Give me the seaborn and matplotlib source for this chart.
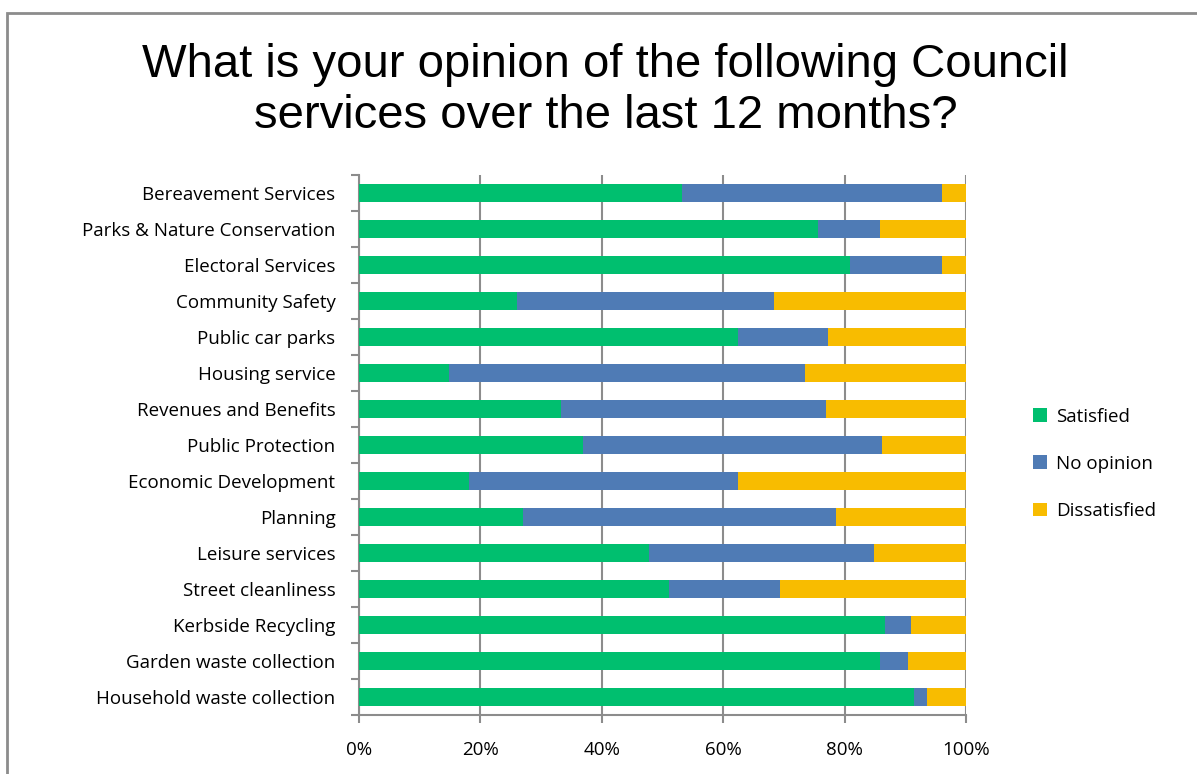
import matplotlib
matplotlib.use("Agg")
import matplotlib.pyplot as plt
import seaborn as sns
import pandas as pd
import numpy as np
from matplotlib.patches import Rectangle
from matplotlib.ticker import FixedLocator, PercentFormatter

services = ["Bereavement Services", "Parks & Nature Conservation", "Electoral Services",
            "Community Safety", "Public car parks", "Housing service",
            "Revenues and Benefits", "Public Protection", "Economic Development",
            "Planning", "Leisure services", "Street cleanliness",
            "Kerbside Recycling", "Garden waste collection", "Household waste collection"]
satisfied = [53.2, 75.7, 80.9, 26.0, 62.5, 14.9, 33.2, 36.9, 18.1, 27.1, 47.8, 51.0, 86.6, 85.9, 91.5]
no_opinion = [42.8, 10.1, 15.1, 42.4, 14.8, 58.5, 43.8, 49.2, 44.4, 51.5, 37.0, 18.4, 4.4, 4.5, 2.0]
dissatisfied = [100 - s - n for s, n in zip(satisfied, no_opinion)]
series = ["Satisfied", "No opinion", "Dissatisfied"]
colors = ["#00BF6F", "#4F7BB5", "#F8BC00"]
x_ticks = [0, 20, 40, 60, 80, 100]

df = pd.DataFrame({"service": services, "Satisfied": satisfied,
                   "No opinion": no_opinion, "Dissatisfied": dissatisfied})
df["c1"] = df["Satisfied"]
df["c2"] = df["Satisfied"] + df["No opinion"]
df["c3"] = df["c2"] + df["Dissatisfied"]

sns.set_theme(style="white")
plt.rcParams["font.family"] = ["Open Sans", "DejaVu Sans"]
plt.rcParams["text.color"] = "black"

fig = plt.figure(figsize=(11.97, 7.74), dpi=100)
ax = fig.add_axes([359/1197, 1-715/774, (966-359)/1197, (715-175)/774])

for col, lab, c in [("c3", "Dissatisfied", colors[2]), ("c2", "No opinion", colors[1]), ("c1", "Satisfied", colors[0])]:
    sns.barplot(data=df, x=col, y="service", orient="h", color=c, width=0.52,
                ax=ax, label=lab, saturation=1, edgecolor="none", linewidth=0, zorder=3)

ax.set_xlim(0, 100)
ax.set_ylim(len(services) - 0.5, -0.5)
ax.set_xlabel("")
ax.set_ylabel("")
ax.xaxis.set_major_locator(FixedLocator(x_ticks))
ax.xaxis.set_major_formatter(PercentFormatter(decimals=0))
ax.grid(axis="x", color="#8C8C8C", linewidth=1.5, zorder=0)
ax.set_axisbelow(True)
for s in ["top", "right"]:
    ax.spines[s].set_visible(False)
for s in ["left", "bottom"]:
    ax.spines[s].set_color("#8C8C8C")
    ax.spines[s].set_linewidth(1.5)
ax.tick_params(axis="y", length=0, pad=17, labelsize=13.5, labelcolor="black")
ax.yaxis.set_minor_locator(FixedLocator(np.arange(-0.5, len(services), 1)))
ax.tick_params(axis="y", which="minor", length=6, width=1.5, color="#8C8C8C", left=True)
ax.tick_params(axis="x", length=6, width=1.5, color="#8C8C8C", bottom=True,
               labelsize=13.5, pad=13, direction="out", labelcolor="black")

handles, labels = ax.get_legend_handles_labels()
order = [labels.index(s) for s in series]
leg = ax.legend([handles[i] for i in order], [labels[i] for i in order],
                loc="center left", bbox_to_anchor=(1.083, 0.465), frameon=False,
                fontsize=13.5, labelspacing=1.55, handlelength=0.75, handleheight=0.75,
                handletextpad=0.45)
for t in leg.get_texts():
    t.set_color("black")

fig.text(0.506, 0.883, "What is your opinion of the following Council\nservices over the last 12 months?",
         ha="center", va="center", fontsize=34, family=["Liberation Sans", "DejaVu Sans"],
         linespacing=1.2, color="black")

fig.patches.append(Rectangle((7/1197, -0.05), 1.1, 1.05 - 13/774, transform=fig.transFigure,
                             fill=False, edgecolor="#8C8C8C", linewidth=2))

fig.savefig("out.png", dpi=100)
